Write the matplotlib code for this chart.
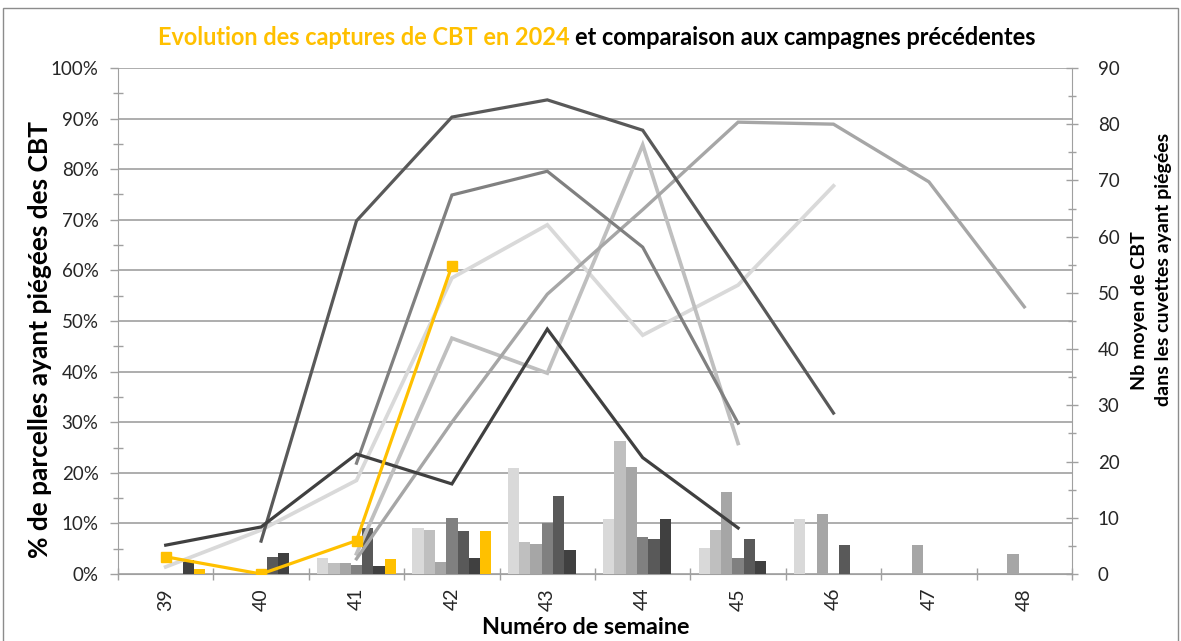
import numpy as np
import matplotlib
matplotlib.use("Agg")
from matplotlib import pyplot as plt
from matplotlib.patches import Rectangle
from matplotlib.ticker import MultipleLocator, PercentFormatter

plt.rcParams['font.family'] = ['Lato', 'DejaVu Sans']

W, H = 1181, 641
nan = np.nan

weeks = ['39', '40', '41', '42', '43', '44', '45', '46', '47', '48']

# % de parcelles ayant piégé des CBT (lignes, axe gauche)
pct_c1 = [1.4, 8.7, 18.5, 58.5, 69.0, 47.2, 57.1, 76.7, nan, nan]
pct_c2 = [nan, nan, 4.0, 46.6, 39.7, 84.8, 25.8, nan, nan, nan]
pct_c3 = [nan, nan, 3.0, 30.0, 55.3, 72.0, 89.3, 88.9, 77.5, 52.8]
pct_c4 = [nan, nan, 21.9, 74.9, 79.6, 64.6, 29.8, nan, nan, nan]
pct_c5 = [nan, 6.5, 69.8, 90.3, 93.7, 87.7, 60.0, 31.8, nan, nan]
pct_c6 = [5.7, 9.3, 23.7, 17.8, 48.4, 23.0, 9.1, nan, nan, nan]
pct_2024 = [3.4, 0.0, 6.6, 60.9, nan, nan, nan, nan, nan, nan]

# Nb moyen de CBT dans les cuvettes ayant piégé (barres, axe droit)
nb_c1 = [nan, nan, 2.8, 8.2, 18.8, 9.7, 4.6, 9.7, nan, nan]
nb_c2 = [nan, nan, 1.9, 7.8, 5.75, 23.7, 7.8, nan, nan, nan]
nb_c3 = [nan, nan, 1.9, 2.2, 5.3, 19.0, 14.6, 10.7, 5.1, 3.5]
nb_c4 = [nan, nan, 1.6, 9.9, 9.1, 6.5, 2.8, nan, nan, nan]
nb_c5 = [nan, 3.1, 8.2, 7.65, 13.9, 6.2, 6.3, 5.1, nan, nan]
nb_c6 = [2.5, 3.7, 1.5, 2.9, 4.2, 9.7, 2.4, nan, nan, nan]
nb_2024 = [0.83, 0.0, 2.7, 7.65, nan, nan, nan, nan, nan, nan]

GREYS = ['#d9d9d9', '#bfbfbf', '#a6a6a6', '#808080', '#595959', '#404040']
LINE_W = [2.7, 2.7, 2.4, 2.3, 2.3, 2.3]
YELLOW = '#ffc000'
AXIS_COL = '#a0a0a0'
TXT_COL = '#262626'

fig = plt.figure(figsize=(W / 100, H / 100), dpi=100)

# chart border
fig.patches.append(Rectangle((3 / W, -0.01), 1175 / W, 1.0038 - 4 / H, transform=fig.transFigure,
                             fill=False, edgecolor='#8c8c8c', lw=1))

x = np.arange(len(weeks))

# base axes: % scale + gridlines
ax = fig.add_axes([118 / W, 1 - 574 / H, (1072 - 118) / W, (574 - 68) / H])
ax.set_zorder(0)
ax.set_xlim(-0.5, len(weeks) - 0.5)
ax.set_ylim(0, 100)
ax.yaxis.set_major_locator(MultipleLocator(10))
ax.yaxis.set_minor_locator(MultipleLocator(5))
ax.yaxis.set_major_formatter(PercentFormatter(100, decimals=0))
ax.grid(axis='y', which='major', color=AXIS_COL, lw=1.2)
ax.set_xticks(np.arange(-0.5, len(weeks), 1))
ax.set_xticklabels([])
ax.set_xticks(x, minor=True)
ax.set_xticklabels(weeks, minor=True, rotation=90)
ax.tick_params(axis='x', which='major', direction='inout', length=9, color=AXIS_COL, width=1)
ax.tick_params(axis='x', which='minor', length=0, pad=10, labelsize=14, labelcolor=TXT_COL)
ax.tick_params(axis='y', which='major', direction='out', length=6, color=AXIS_COL, width=1,
               pad=8, labelsize=13.5, labelcolor=TXT_COL)
ax.tick_params(axis='y', which='minor', direction='inout', length=7, color=AXIS_COL, width=1)
ax.spines['top'].set_visible(False)
ax.spines['right'].set_visible(False)
ax.spines['left'].set_color(AXIS_COL)
ax.spines['bottom'].set_color(AXIS_COL)

# bars on the right axis
axb = ax.twinx()
axb.set_zorder(1)
axb.patch.set_visible(False)
axb.set_ylim(0, 90)
axb.yaxis.set_major_locator(MultipleLocator(10))
axb.yaxis.set_minor_locator(MultipleLocator(5))
axb.tick_params(axis='y', which='major', direction='inout', length=9, color=AXIS_COL, width=1,
                pad=14, labelsize=13.5, labelcolor=TXT_COL)
axb.tick_params(axis='y', which='minor', direction='inout', length=6, color=AXIS_COL, width=1)
for s in ['top', 'left', 'bottom']:
    axb.spines[s].set_visible(False)
axb.spines['right'].set_color(AXIS_COL)

nb_series = [nb_c1, nb_c2, nb_c3, nb_c4, nb_c5, nb_c6, nb_2024]
bar_cols = GREYS + [YELLOW]
bar_w = 0.1185
for i, (vals, col) in enumerate(zip(nb_series, bar_cols)):
    axb.bar(x + (i - 3) * bar_w, vals, width=bar_w, color=col, linewidth=0)

# lines on top, same % scale as the left axis
axl = ax.twinx()
axl.set_zorder(2)
axl.patch.set_visible(False)
axl.set_ylim(0, 100)
axl.yaxis.set_visible(False)
for s in axl.spines.values():
    s.set_visible(False)

pct_series = [pct_c1, pct_c2, pct_c3, pct_c4, pct_c5, pct_c6]
for vals, col, lw in zip(pct_series, GREYS, LINE_W):
    axl.plot(x, vals, color=col, lw=lw, solid_joinstyle='miter')
axl.plot(x, pct_2024, color=YELLOW, lw=2.3, marker='s', ms=7)

# texts
fig.canvas.draw()
rend = fig.canvas.get_renderer()


def fit(txt, target, vertical=False):
    bb = txt.get_window_extent(rend)
    cur = bb.height if vertical else bb.width
    txt.set_fontsize(txt.get_fontsize() * target / cur)


title_a = "Evolution des captures de CBT en 2024"
title_b = "et comparaison aux campagnes précédentes"
ty = 1 - 45 / H
full = fig.text(0.5, ty, title_a + " " + title_b, ha='center', va='baseline',
                fontsize=14, weight='bold')
fit(full, 886)
tw = full.get_window_extent(rend).width
fs = full.get_fontsize()
full.remove()
cx = 597
fig.text((cx - tw / 2) / W, ty, title_a, ha='left', va='baseline', fontsize=fs,
         weight='bold', color=YELLOW)
fig.text((cx + tw / 2) / W, ty, title_b, ha='right', va='baseline', fontsize=fs,
         weight='bold', color='black')

yl = fig.text(40 / W, 1 - 339 / H, "% de parcelles ayant piégées des CBT", rotation=90,
              ha='center', va='center', fontsize=14, weight='bold', color='black')
fit(yl, 440, vertical=True)

r2 = fig.text(1163 / W, 1 - 269 / H, "dans les cuvettes ayant piégées", rotation=90,
              ha='center', va='center', fontsize=13, weight='bold', color='black')
fit(r2, 272, vertical=True)
fig.text(1140 / W, 1 - 311 / H, "Nb moyen de CBT", rotation=90,
         ha='center', va='center', fontsize=r2.get_fontsize(), weight='bold', color='black')

xl = fig.text(586 / W, 1 - 628 / H, "Numéro de semaine", ha='center', va='center',
              fontsize=12, weight='bold', color='black')
fit(xl, 207)

fig.savefig("out.png", dpi=100)
